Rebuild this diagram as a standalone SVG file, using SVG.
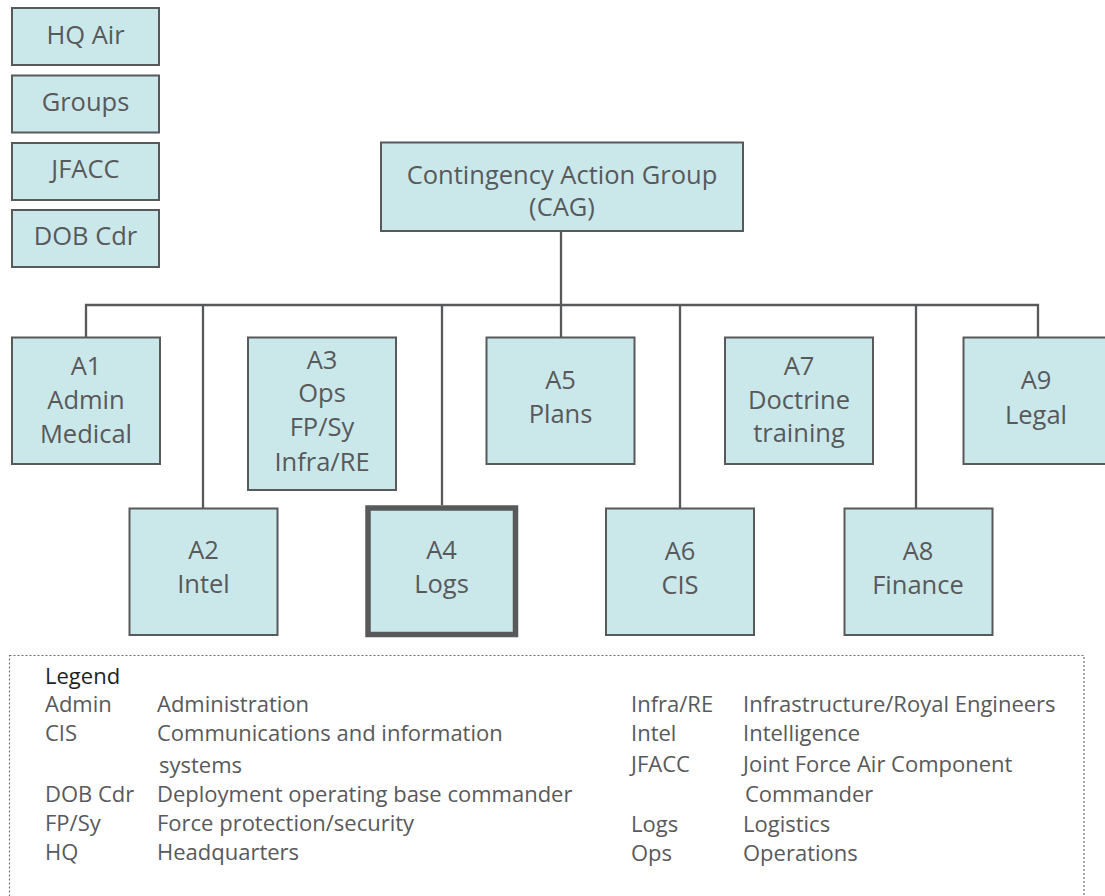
<svg xmlns="http://www.w3.org/2000/svg" width="1105" height="896" viewBox="0 0 1105 896">
<style>
.box{fill:#cae8ea;stroke:#58595b;stroke-width:2}
.thick{fill:#cae8ea;stroke:#58595b;stroke-width:5.5}
.t{font-family:"Open Sans","Noto Sans",sans-serif;font-size:25.5px;fill:#58595b;text-anchor:middle}
.l{font-family:"Open Sans","Noto Sans",sans-serif;font-size:22px;fill:#58595b}
.conn{fill:none;stroke:#58595b;stroke-width:2.3}
</style>
<rect x="0" y="0" width="1105" height="896" fill="#ffffff"/>
<g id="connectors" class="conn">
<path d="M561 231V305"/>
<path d="M86 337.5V305H1038V337.5"/>
<path d="M203 305V508"/>
<path d="M442 305V505"/>
<path d="M561 305V337.5"/>
<path d="M680 305V508"/>
<path d="M916 305V508"/>
</g>
<g id="hqair"><rect class="box" x="12" y="8" width="147" height="57"/><text class="t" x="85.5" y="44">HQ Air</text></g>
<g id="groups"><rect class="box" x="12" y="75.5" width="147" height="57"/><text class="t" x="85.5" y="111">Groups</text></g>
<g id="jfacc"><rect class="box" x="12" y="143" width="147" height="57"/><text class="t" x="85.5" y="178">JFACC</text></g>
<g id="dobcdr"><rect class="box" x="12" y="210" width="147" height="57"/><text class="t" x="85.5" y="245">DOB Cdr</text></g>
<g id="cag"><rect class="box" x="381" y="142.5" width="362" height="88.5"/><text class="t" x="562" y="184">Contingency Action Group</text><text class="t" x="562" y="216">(CAG)</text></g>
<g id="a1"><rect class="box" x="12" y="337.5" width="148" height="126.5"/><text class="t" x="86" y="375">A1</text><text class="t" x="86" y="409">Admin</text><text class="t" x="86" y="443">Medical</text></g>
<g id="a2"><rect class="box" x="129.5" y="508.5" width="148" height="126.5"/><text class="t" x="203.5" y="559">A2</text><text class="t" x="203.5" y="593">Intel</text></g>
<g id="a3"><rect class="box" x="248" y="337.5" width="148" height="152.5"/><text class="t" x="322" y="369">A3</text><text class="t" x="322" y="402">Ops</text><text class="t" x="322" y="436">FP/Sy</text><text class="t" x="322" y="471">Infra/RE</text></g>
<g id="a4"><rect class="thick" x="368" y="508" width="147.5" height="126.5"/><text class="t" x="441.5" y="559">A4</text><text class="t" x="441.5" y="593">Logs</text></g>
<g id="a5"><rect class="box" x="486.5" y="337.5" width="148" height="126.5"/><text class="t" x="560.5" y="389">A5</text><text class="t" x="560.5" y="423">Plans</text></g>
<g id="a6"><rect class="box" x="606" y="508.5" width="148" height="126.5"/><text class="t" x="680" y="560">A6</text><text class="t" x="680" y="594">CIS</text></g>
<g id="a7"><rect class="box" x="725" y="337.5" width="148" height="126.5"/><text class="t" x="799" y="375">A7</text><text class="t" x="799" y="409">Doctrine</text><text class="t" x="799" y="442">training</text></g>
<g id="a8"><rect class="box" x="844.5" y="508.5" width="148" height="126.5"/><text class="t" x="918" y="560">A8</text><text class="t" x="918" y="594">Finance</text></g>
<g id="a9"><rect class="box" x="963.5" y="337.5" width="148" height="126.5"/><text class="t" x="1036" y="389">A9</text><text class="t" x="1036" y="424">Legal</text></g>
<g id="legend">
<rect x="9.5" y="655.5" width="1074.5" height="260" fill="none" stroke="#6d6e71" stroke-width="1.2" stroke-dasharray="2 2"/>
<text class="l" x="45" y="684" style="fill:#231f20">Legend</text>
<text class="l" x="45" y="712">Admin</text><text class="l" x="157" y="712">Administration</text>
<text class="l" x="45" y="741">CIS</text><text class="l" x="157" y="741">Communications and information</text>
<text class="l" x="159" y="773">systems</text>
<text class="l" x="45" y="802">DOB Cdr</text><text class="l" x="157" y="802">Deployment operating base commander</text>
<text class="l" x="45" y="831">FP/Sy</text><text class="l" x="157" y="831">Force protection/security</text>
<text class="l" x="45" y="860">HQ</text><text class="l" x="157" y="860">Headquarters</text>
<text class="l" x="631" y="712">Infra/RE</text><text class="l" x="743" y="712">Infrastructure/Royal Engineers</text>
<text class="l" x="631" y="741">Intel</text><text class="l" x="743" y="741">Intelligence</text>
<text class="l" x="631" y="772">JFACC</text><text class="l" x="743" y="772">Joint Force Air Component</text>
<text class="l" x="745" y="802">Commander</text>
<text class="l" x="631" y="832">Logs</text><text class="l" x="743" y="832">Logistics</text>
<text class="l" x="631" y="861">Ops</text><text class="l" x="743" y="861">Operations</text>
</g>
</svg>
